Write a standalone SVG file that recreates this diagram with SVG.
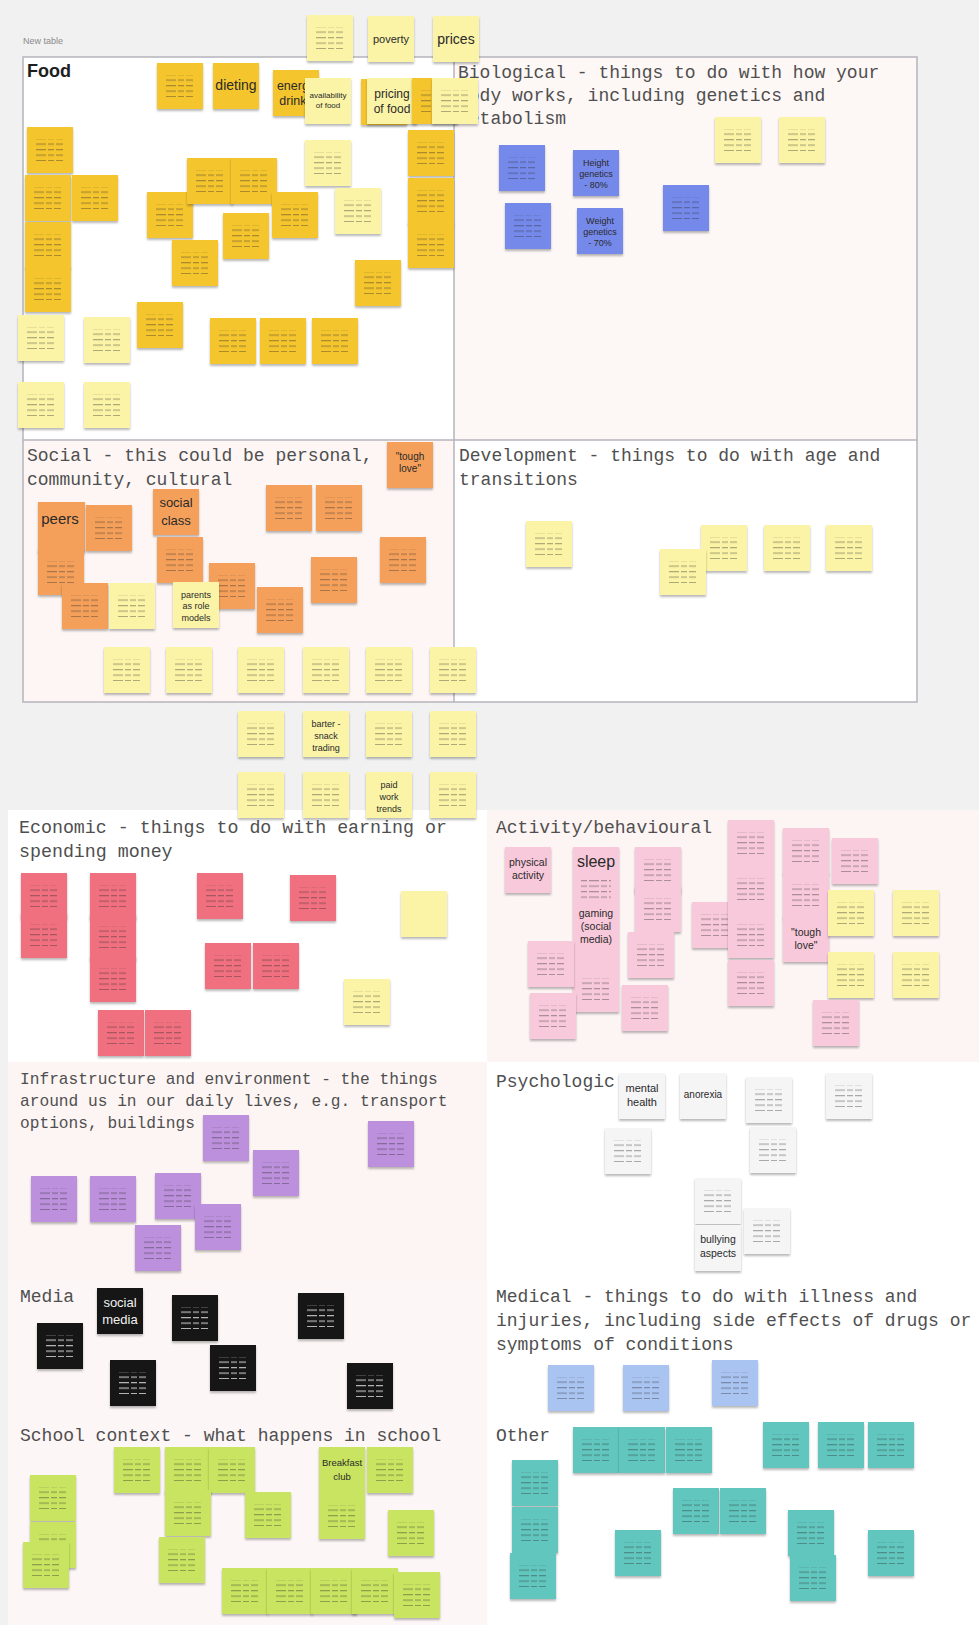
<svg xmlns="http://www.w3.org/2000/svg" xmlns:xlink="http://www.w3.org/1999/xlink" width="979" height="1625" viewBox="0 0 979 1625">
<style>
.h{font-family:"Liberation Mono","DejaVu Sans Mono",monospace;font-size:18px;fill:#4f4f4f}
.t{font-family:"Liberation Sans","Noto Sans",sans-serif;fill:#2a2a2a;text-anchor:middle}
.tw{font-family:"Liberation Sans","Noto Sans",sans-serif;fill:#f2f2f2;text-anchor:middle}
.y1{fill:#f5c52e;filter:url(#sh)}
.y2{fill:#fbf4a6;filter:url(#sh)}
.bl{fill:#7489eb;filter:url(#sh)}
.or{fill:#f5a05a;filter:url(#sh)}
.rd{fill:#f0707f;filter:url(#sh)}
.pk{fill:#f8c9da;filter:url(#sh)}
.pu{fill:#bc90dc;filter:url(#sh)}
.wh{fill:#f5f5f6;filter:url(#sh)}
.bk{fill:#151515;filter:url(#sh)}
.lb{fill:#a9c4f1;filter:url(#sh)}
.gr{fill:#c9e460;filter:url(#sh)}
.tl{fill:#61c6be;filter:url(#sh)}
</style>
<defs>
<filter id="sh" x="-10%" y="-10%" width="120%" height="130%"><feDropShadow dx="0" dy="2" stdDeviation="1.2" flood-color="#000" flood-opacity="0.28"/></filter>
<pattern id="tx" width="29" height="5.5" patternUnits="userSpaceOnUse"><g fill="#2a2a2a" opacity="0.38"><rect x="0" width="7" height="1.2"/><rect x="9" width="10" height="1.2"/><rect x="21" width="6" height="1.2"/></g></pattern>
<pattern id="txw" width="29" height="5.5" patternUnits="userSpaceOnUse"><g fill="#ffffff" opacity="0.7"><rect x="0" width="7" height="1.2"/><rect x="9" width="10" height="1.2"/><rect x="21" width="6" height="1.2"/></g></pattern>
<g id="N"><rect width="46" height="46"/><rect x="8" y="12" width="30" height="22" fill="url(#tx)"/></g>
<g id="NW"><rect width="46" height="46"/><rect x="8" y="12" width="30" height="22" fill="url(#txw)"/></g>
<rect id="B" width="46" height="46"/>
</defs>

<!-- background -->
<rect width="979" height="1625" fill="#f1f1f1"/>
<text x="23" y="44" font-family="Liberation Sans, sans-serif" font-size="9" fill="#8a8a8a">New table</text>

<!-- top table -->
<g id="table">
<rect x="23" y="57" width="431" height="383" fill="#ffffff"/>
<rect x="454" y="57" width="463" height="383" fill="#fdf7f6"/>
<rect x="23" y="440" width="431" height="262" fill="#fdf6f5"/>
<rect x="454" y="440" width="463" height="262" fill="#ffffff"/>
<rect x="23" y="57" width="894" height="645" fill="none" stroke="#b4b4bc" stroke-width="1.5"/>
<line x1="454" y1="57" x2="454" y2="702" stroke="#b4b4bc" stroke-width="1.5"/>
<line x1="23" y1="440" x2="917" y2="440" stroke="#b4b4bc" stroke-width="1.5"/>
</g>

<!-- lower board -->
<g id="board">
<rect x="8" y="810" width="479" height="252" fill="#ffffff"/>
<rect x="487" y="810" width="492" height="252" fill="#fdf4f4"/>
<rect x="8" y="1062" width="479" height="218" fill="#fdf5f4"/>
<rect x="487" y="1062" width="492" height="218" fill="#ffffff"/>
<rect x="8" y="1280" width="479" height="139" fill="#fdf6f6"/>
<rect x="487" y="1280" width="492" height="139" fill="#ffffff"/>
<rect x="8" y="1419" width="479" height="206" fill="#fdf6f6"/>
<rect x="487" y="1419" width="492" height="206" fill="#ffffff"/>
</g>

<!-- headings -->
<g id="headings">
<text x="27" y="77" font-family="Liberation Sans, sans-serif" font-weight="bold" font-size="18" fill="#1e1e1e">Food</text>
<text class="h" x="458"><tspan x="458" y="78">Biological - things to do with how your</tspan><tspan x="458" y="101">body works, including genetics and</tspan><tspan x="458" y="124">metabolism</tspan></text>
<text class="h" x="27"><tspan x="27" y="461">Social - this could be personal,</tspan><tspan x="27" y="485">community, cultural</tspan></text>
<text class="h" x="459"><tspan x="459" y="461">Development - things to do with age and</tspan><tspan x="459" y="485">transitions</tspan></text>
<text class="h" x="19" style="font-size:18.3px"><tspan x="19" y="833">Economic - things to do with earning or</tspan><tspan x="19" y="857">spending money</tspan></text>
<text class="h" x="496" y="833">Activity/behavioural</text>
<text class="h" x="20" style="font-size:16.2px"><tspan x="20" y="1084">Infrastructure and environment - the things</tspan><tspan x="20" y="1106">around us in our daily lives, e.g. transport</tspan><tspan x="20" y="1128">options, buildings</tspan></text>
<text class="h" x="496" y="1087">Psychologic</text>
<text class="h" x="20" y="1302">Media</text>
<text class="h" x="496"><tspan x="496" y="1302">Medical - things to do with illness and</tspan><tspan x="496" y="1326">injuries, including side effects of drugs or</tspan><tspan x="496" y="1350">symptoms of conditions</tspan></text>
<text class="h" x="20" y="1441">School context - what happens in school</text>
<text class="h" x="496" y="1441">Other</text>
</g>

<g id="connectors"/>

<!-- above table -->
<g id="top-1"><use href="#N" x="307" y="15" class="y2"/></g>
<g id="top-2"><use href="#B" x="368" y="16" class="y2"/><text class="t" x="391" y="43" font-size="11">poverty</text></g>
<g id="top-3"><use href="#B" x="433" y="16" class="y2"/><text class="t" x="456" y="44" font-size="14">prices</text></g>

<!-- Food -->
<g id="food-1"><use href="#N" x="157" y="63" class="y1"/></g>
<g id="food-2"><use href="#B" x="213" y="63" class="y1"/><text class="t" x="236" y="90" font-size="14">dieting</text></g>
<g id="food-3"><use href="#B" x="273" y="70" class="y1"/><text class="t" x="296" font-size="12.5"><tspan x="296" y="90">energy</tspan><tspan x="296" y="105">drinks</tspan></text></g>
<g id="food-4"><use href="#B" x="305" y="78" class="y2"/><text class="t" x="328" font-size="8"><tspan x="328" y="98">availability</tspan><tspan x="328" y="108">of food</tspan></text></g>
<g id="food-5"><use href="#B" x="361" y="79" class="y1"/></g>
<g id="food-6"><rect x="367" y="78" width="50" height="46" class="y2"/><text class="t" x="392" font-size="12"><tspan x="392" y="98">pricing</tspan><tspan x="392" y="113">of food</tspan></text></g>
<g id="food-7"><use href="#N" x="408" y="130" class="y1"/></g>
<g id="food-8"><use href="#N" x="408" y="178" class="y1"/></g>
<g id="food-9"><use href="#N" x="408" y="222" class="y1"/></g>
<g id="food-10"><use href="#N" x="412" y="78" class="y1"/></g>
<g id="food-11"><use href="#N" x="432" y="78" class="y2"/></g>
<g id="food-12"><use href="#N" x="305" y="140" class="y2"/></g>
<g id="food-13"><use href="#N" x="27" y="127" class="y1"/></g>
<g id="food-14"><use href="#N" x="25" y="175" class="y1"/></g>
<g id="food-15"><use href="#N" x="72" y="175" class="y1"/></g>
<g id="food-16"><use href="#N" x="25" y="222" class="y1"/></g>
<g id="food-17"><use href="#N" x="25" y="266" class="y1"/></g>
<g id="food-18"><use href="#N" x="147" y="192" class="y1"/></g>
<g id="food-19"><use href="#N" x="187" y="158" class="y1"/></g>
<g id="food-20"><use href="#N" x="231" y="158" class="y1"/></g>
<g id="food-21"><use href="#N" x="172" y="240" class="y1"/></g>
<g id="food-22"><use href="#N" x="223" y="213" class="y1"/></g>
<g id="food-23"><use href="#N" x="272" y="192" class="y1"/></g>
<g id="food-24"><use href="#N" x="335" y="188" class="y2"/></g>
<g id="food-25"><use href="#N" x="355" y="260" class="y1"/></g>
<g id="food-26"><use href="#N" x="137" y="302" class="y1"/></g>
<g id="food-27"><use href="#N" x="210" y="318" class="y1"/></g>
<g id="food-28"><use href="#N" x="260" y="318" class="y1"/></g>
<g id="food-29"><use href="#N" x="312" y="318" class="y1"/></g>
<g id="food-30"><use href="#N" x="18" y="315" class="y2"/></g>
<g id="food-31"><use href="#N" x="84" y="317" class="y2"/></g>
<g id="food-32"><use href="#N" x="18" y="382" class="y2"/></g>
<g id="food-33"><use href="#N" x="84" y="382" class="y2"/></g>

<!-- Biological -->
<g id="bio-1"><use href="#N" x="499" y="145" class="bl"/></g>
<g id="bio-2"><use href="#B" x="573" y="150" class="bl"/><text class="t" x="596" font-size="9" fill="#1d2560"><tspan x="596" y="166">Height</tspan><tspan x="596" y="177">genetics</tspan><tspan x="596" y="188">- 80%</tspan></text></g>
<g id="bio-3"><use href="#N" x="505" y="203" class="bl"/></g>
<g id="bio-4"><use href="#B" x="577" y="208" class="bl"/><text class="t" x="600" font-size="9" fill="#1d2560"><tspan x="600" y="224">Weight</tspan><tspan x="600" y="235">genetics</tspan><tspan x="600" y="246">- 70%</tspan></text></g>
<g id="bio-5"><use href="#N" x="663" y="185" class="bl"/></g>
<g id="bio-6"><use href="#N" x="715" y="117" class="y2"/></g>
<g id="bio-7"><use href="#N" x="779" y="117" class="y2"/></g>

<!-- Social -->
<g id="soc-1"><use href="#B" x="387" y="442" class="or"/><text class="t" x="410" font-size="10"><tspan x="410" y="460">"tough</tspan><tspan x="410" y="472">love"</tspan></text></g>
<g id="soc-2"><rect x="38" y="502" width="47" height="50" class="or"/><text class="t" x="60" y="524" font-size="15">peers</text></g>
<g id="soc-3"><use href="#N" x="86" y="505" class="or"/></g>
<g id="soc-4"><use href="#N" x="38" y="549" class="or"/></g>
<g id="soc-5"><use href="#B" x="153" y="489" class="or"/><text class="t" x="176" font-size="13"><tspan x="176" y="507">social</tspan><tspan x="176" y="525">class</tspan></text></g>
<g id="soc-6"><use href="#N" x="157" y="537" class="or"/></g>
<g id="soc-7"><use href="#N" x="209" y="563" class="or"/></g>
<g id="soc-8"><use href="#N" x="257" y="587" class="or"/></g>
<g id="soc-9"><use href="#N" x="62" y="583" class="or"/></g>
<g id="soc-10"><use href="#N" x="109" y="583" class="y2"/></g>
<g id="soc-11"><use href="#B" x="173" y="582" class="y2"/><text class="t" x="196" font-size="9"><tspan x="196" y="598">parents</tspan><tspan x="196" y="609">as role</tspan><tspan x="196" y="621">models</tspan></text></g>
<g id="soc-12"><use href="#N" x="266" y="485" class="or"/></g>
<g id="soc-13"><use href="#N" x="316" y="485" class="or"/></g>
<g id="soc-14"><use href="#N" x="311" y="557" class="or"/></g>
<g id="soc-15"><use href="#N" x="380" y="537" class="or"/></g>
<g id="soc-16"><use href="#N" x="104" y="647" class="y2"/></g>
<g id="soc-17"><use href="#N" x="166" y="647" class="y2"/></g>
<g id="soc-18"><use href="#N" x="238" y="647" class="y2"/></g>
<g id="soc-19"><use href="#N" x="303" y="647" class="y2"/></g>
<g id="soc-20"><use href="#N" x="366" y="647" class="y2"/></g>
<g id="soc-21"><use href="#N" x="430" y="647" class="y2"/></g>
<g id="soc-22"><use href="#N" x="238" y="711" class="y2"/></g>
<g id="soc-23"><use href="#B" x="303" y="711" class="y2"/><text class="t" x="326" font-size="9"><tspan x="326" y="727">barter -</tspan><tspan x="326" y="739">snack</tspan><tspan x="326" y="751">trading</tspan></text></g>
<g id="soc-24"><use href="#N" x="366" y="711" class="y2"/></g>
<g id="soc-25"><use href="#N" x="430" y="711" class="y2"/></g>
<g id="soc-26"><use href="#N" x="238" y="772" class="y2"/></g>
<g id="soc-27"><use href="#N" x="303" y="772" class="y2"/></g>
<g id="soc-28"><use href="#B" x="366" y="772" class="y2"/><text class="t" x="389" font-size="9"><tspan x="389" y="788">paid</tspan><tspan x="389" y="800">work</tspan><tspan x="389" y="812">trends</tspan></text></g>
<g id="soc-29"><use href="#N" x="430" y="772" class="y2"/></g>

<!-- Development -->
<g id="dev-1"><use href="#N" x="526" y="521" class="y2"/></g>
<g id="dev-2"><use href="#N" x="701" y="525" class="y2"/></g>
<g id="dev-3"><use href="#N" x="660" y="549" class="y2"/></g>
<g id="dev-4"><use href="#N" x="764" y="525" class="y2"/></g>
<g id="dev-5"><use href="#N" x="826" y="525" class="y2"/></g>

<!-- Economic -->
<g id="eco-1"><use href="#N" x="21" y="873" class="rd"/></g>
<g id="eco-2"><use href="#N" x="21" y="912" class="rd"/></g>
<g id="eco-3"><use href="#N" x="90" y="873" class="rd"/></g>
<g id="eco-4"><use href="#N" x="90" y="914" class="rd"/></g>
<g id="eco-5"><use href="#N" x="90" y="956" class="rd"/></g>
<g id="eco-6"><use href="#N" x="98" y="1010" class="rd"/></g>
<g id="eco-7"><use href="#N" x="145" y="1010" class="rd"/></g>
<g id="eco-8"><use href="#N" x="197" y="873" class="rd"/></g>
<g id="eco-9"><use href="#N" x="290" y="875" class="rd"/></g>
<g id="eco-10"><use href="#N" x="205" y="943" class="rd"/></g>
<g id="eco-11"><use href="#N" x="253" y="943" class="rd"/></g>
<g id="eco-12"><use href="#B" x="401" y="891" class="y2"/></g>
<g id="eco-13"><use href="#N" x="344" y="979" class="y2"/></g>

<!-- Activity/behavioural -->
<g id="act-1"><use href="#B" x="505" y="847" class="pk"/><text class="t" x="528" font-size="10.5"><tspan x="528" y="866">physical</tspan><tspan x="528" y="879">activity</tspan></text></g>
<g id="act-2"><rect x="573" y="847" width="46" height="119" class="pk"/><text class="t" x="596" y="867" font-size="16">sleep</text><rect x="581" y="880" width="30" height="22" fill="url(#tx)"/><text class="t" x="596" font-size="10.5"><tspan x="596" y="917">gaming</tspan><tspan x="596" y="930">(social</tspan><tspan x="596" y="943">media)</tspan></text></g>
<g id="act-3"><use href="#N" x="573" y="966" class="pk"/></g>
<g id="act-4"><use href="#N" x="528" y="941" class="pk"/></g>
<g id="act-5"><use href="#N" x="530" y="993" class="pk"/></g>
<g id="act-6"><use href="#N" x="635" y="847" class="pk"/></g>
<g id="act-7"><use href="#N" x="635" y="886" class="pk"/></g>
<g id="act-8"><use href="#N" x="628" y="932" class="pk"/></g>
<g id="act-9"><use href="#N" x="622" y="985" class="pk"/></g>
<g id="act-10"><use href="#N" x="692" y="902" class="pk"/></g>
<g id="act-11"><use href="#N" x="728" y="820" class="pk"/></g>
<g id="act-12"><use href="#N" x="728" y="866" class="pk"/></g>
<g id="act-13"><use href="#N" x="728" y="912" class="pk"/></g>
<g id="act-14"><use href="#N" x="728" y="960" class="pk"/></g>
<g id="act-15"><use href="#N" x="783" y="828" class="pk"/></g>
<g id="act-16"><use href="#N" x="783" y="872" class="pk"/></g>
<g id="act-17"><use href="#B" x="783" y="916" class="pk"/><text class="t" x="806" font-size="10.5"><tspan x="806" y="936">"tough</tspan><tspan x="806" y="949">love"</tspan></text></g>
<g id="act-18"><use href="#N" x="832" y="838" class="pk"/></g>
<g id="act-19"><use href="#N" x="828" y="890" class="y2"/></g>
<g id="act-20"><use href="#N" x="893" y="890" class="y2"/></g>
<g id="act-21"><use href="#N" x="828" y="952" class="y2"/></g>
<g id="act-22"><use href="#N" x="893" y="952" class="y2"/></g>
<g id="act-23"><use href="#N" x="813" y="1000" class="pk"/></g>

<!-- Infrastructure -->
<g id="inf-1"><use href="#N" x="203" y="1115" class="pu"/></g>
<g id="inf-2"><use href="#N" x="253" y="1150" class="pu"/></g>
<g id="inf-3"><use href="#N" x="368" y="1121" class="pu"/></g>
<g id="inf-4"><use href="#N" x="31" y="1176" class="pu"/></g>
<g id="inf-5"><use href="#N" x="90" y="1176" class="pu"/></g>
<g id="inf-6"><use href="#N" x="155" y="1173" class="pu"/></g>
<g id="inf-7"><use href="#N" x="195" y="1204" class="pu"/></g>
<g id="inf-8"><use href="#N" x="135" y="1225" class="pu"/></g>

<!-- Psychological -->
<g id="psy-1"><use href="#B" x="619" y="1073" class="wh"/><text class="t" x="642" font-size="11"><tspan x="642" y="1092">mental</tspan><tspan x="642" y="1106">health</tspan></text></g>
<g id="psy-2"><use href="#B" x="680" y="1073" class="wh"/><text class="t" x="703" y="1098" font-size="10">anorexia</text></g>
<g id="psy-3"><use href="#N" x="746" y="1077" class="wh"/></g>
<g id="psy-4"><use href="#N" x="826" y="1073" class="wh"/></g>
<g id="psy-5"><use href="#N" x="605" y="1128" class="wh"/></g>
<g id="psy-6"><use href="#N" x="750" y="1127" class="wh"/></g>
<g id="psy-7"><use href="#N" x="695" y="1178" class="wh"/></g>
<g id="psy-8"><use href="#B" x="695" y="1225" class="wh"/><text class="t" x="718" font-size="10.5"><tspan x="718" y="1243">bullying</tspan><tspan x="718" y="1257">aspects</tspan></text></g>
<g id="psy-9"><use href="#N" x="744" y="1208" class="wh"/></g>

<!-- Media -->
<g id="med-1"><use href="#B" x="97" y="1288" class="bk"/><text class="tw" x="120" font-size="13"><tspan x="120" y="1307">social</tspan><tspan x="120" y="1324">media</tspan></text></g>
<g id="med-2"><use href="#NW" x="37" y="1323" class="bk"/></g>
<g id="med-3"><use href="#NW" x="172" y="1295" class="bk"/></g>
<g id="med-4"><use href="#NW" x="110" y="1360" class="bk"/></g>
<g id="med-5"><use href="#NW" x="210" y="1345" class="bk"/></g>
<g id="med-6"><use href="#NW" x="298" y="1293" class="bk"/></g>
<g id="med-7"><use href="#NW" x="347" y="1363" class="bk"/></g>

<!-- Medical -->
<g id="mdc-1"><use href="#N" x="548" y="1365" class="lb"/></g>
<g id="mdc-2"><use href="#N" x="623" y="1365" class="lb"/></g>
<g id="mdc-3"><use href="#N" x="712" y="1360" class="lb"/></g>

<!-- School -->
<g id="sch-1"><use href="#N" x="114" y="1447" class="gr"/></g>
<g id="sch-2"><use href="#N" x="165" y="1447" class="gr"/></g>
<g id="sch-3"><use href="#N" x="209" y="1447" class="gr"/></g>
<g id="sch-4"><use href="#N" x="165" y="1490" class="gr"/></g>
<g id="sch-5"><use href="#N" x="245" y="1492" class="gr"/></g>
<g id="sch-6"><use href="#N" x="159" y="1537" class="gr"/></g>
<g id="sch-7"><use href="#N" x="30" y="1475" class="gr"/></g>
<g id="sch-8"><use href="#N" x="30" y="1522" class="gr"/></g>
<g id="sch-9"><use href="#N" x="23" y="1542" class="gr"/></g>
<g id="sch-10"><use href="#B" x="319" y="1447" class="gr"/><text class="t" x="342" font-size="9.5"><tspan x="342" y="1466">Breakfast</tspan><tspan x="342" y="1480">club</tspan></text></g>
<g id="sch-11"><use href="#N" x="367" y="1447" class="gr"/></g>
<g id="sch-12"><use href="#N" x="319" y="1493" class="gr"/></g>
<g id="sch-13"><use href="#N" x="388" y="1510" class="gr"/></g>
<g id="sch-14"><use href="#N" x="222" y="1568" class="gr"/></g>
<g id="sch-15"><use href="#N" x="267" y="1568" class="gr"/></g>
<g id="sch-16"><use href="#N" x="311" y="1568" class="gr"/></g>
<g id="sch-17"><use href="#N" x="352" y="1568" class="gr"/></g>
<g id="sch-18"><use href="#N" x="394" y="1572" class="gr"/></g>

<!-- Other -->
<g id="oth-1"><use href="#N" x="573" y="1427" class="tl"/></g>
<g id="oth-2"><use href="#N" x="619" y="1427" class="tl"/></g>
<g id="oth-3"><use href="#N" x="666" y="1427" class="tl"/></g>
<g id="oth-4"><use href="#N" x="763" y="1422" class="tl"/></g>
<g id="oth-5"><use href="#N" x="818" y="1422" class="tl"/></g>
<g id="oth-6"><use href="#N" x="868" y="1422" class="tl"/></g>
<g id="oth-7"><use href="#N" x="512" y="1460" class="tl"/></g>
<g id="oth-8"><use href="#N" x="512" y="1507" class="tl"/></g>
<g id="oth-9"><use href="#N" x="510" y="1553" class="tl"/></g>
<g id="oth-10"><use href="#N" x="673" y="1488" class="tl"/></g>
<g id="oth-11"><use href="#N" x="720" y="1488" class="tl"/></g>
<g id="oth-12"><use href="#N" x="615" y="1530" class="tl"/></g>
<g id="oth-13"><use href="#N" x="788" y="1510" class="tl"/></g>
<g id="oth-14"><use href="#N" x="790" y="1555" class="tl"/></g>
<g id="oth-15"><use href="#N" x="868" y="1530" class="tl"/></g>
</svg>
